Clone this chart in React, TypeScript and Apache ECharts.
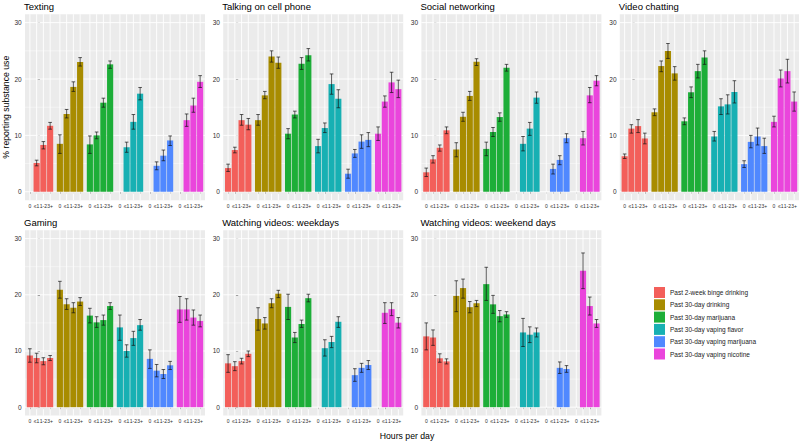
import React, { useEffect, useRef } from "react";
import * as echarts from "echarts";

const LEVELS = ["0", "≤1", "1-2", "3+"];
const SUBSTANCES = [
  "Past 2-week binge drinking",
  "Past 30-day drinking",
  "Past 30-day marijuana",
  "Past 30-day vaping flavor",
  "Past 30-day vaping marijuana",
  "Past 30-day vaping nicotine",
];
const COLORS = ["#F35F5A", "#A88C00", "#1DAE38", "#17B0B3", "#5088FF", "#EA45DC"];
const PANEL_TITLES = [
  "Texting",
  "Talking on cell phone",
  "Social networking",
  "Video chatting",
  "Gaming",
  "Watching videos: weekdays",
  "Watching videos: weekend days",
];
const Y_LABELS = [0, 10, 20, 30];
const Y_MINOR = [5, 15, 25];

const _ = null;

// rows: substances; columns: hours per day levels
const TEXTING_MEAN = [[_, 5.1, 8.3, 11.7], [8.5, 13.8, 18.6, 23.0], [8.4, 10.0, 15.8, 22.6], [_, 7.9, 12.4, 17.4], [_, 4.6, 6.4, 9.1], [_, 12.7, 15.3, 19.5]];
const TEXTING_LOW = [[_, 4.6, 7.6, 11.1], [6.8, 13.1, 17.8, 22.3], [6.8, 9.4, 15.0, 21.9], [_, 7.0, 11.1, 16.3], [_, 3.9, 5.5, 8.2], [_, 11.6, 14.1, 18.5]];
const TEXTING_HIGH = [[_, 5.6, 8.9, 12.3], [10.1, 14.6, 19.5, 23.8], [9.9, 10.6, 16.6, 23.2], [_, 8.8, 13.7, 18.5], [_, 5.3, 7.4, 9.9], [_, 13.8, 16.6, 20.6]];

const TALKING_MEAN = [[4.2, 7.4, 12.7, 11.9], [12.7, 17.1, 24.0, 22.9], [10.3, 13.7, 22.7, 24.2], [8.1, 11.3, 19.1, 16.5], [3.2, 6.8, 8.9, 9.2], [10.3, 16.0, 19.4, 18.2]];
const TALKING_LOW = [[3.6, 6.9, 11.8, 11.0], [11.8, 16.5, 23.0, 21.9], [9.4, 13.1, 21.7, 23.2], [6.9, 10.5, 17.3, 14.9], [2.4, 6.1, 7.7, 8.0], [9.1, 15.0, 17.6, 16.7]];
const TALKING_HIGH = [[4.9, 7.9, 13.7, 13.0], [13.7, 17.8, 25.0, 23.9], [11.2, 14.3, 23.8, 25.4], [9.3, 12.2, 20.9, 18.1], [4.0, 7.5, 10.1, 10.5], [11.5, 17.0, 21.2, 19.8]];

const SOCIAL_MEAN = [[3.45, 5.75, 7.8, 10.9], [7.5, 13.3, 17.0, 23.05], [7.6, 10.6, 13.25, 22.0], [_, 8.5, 11.2, 16.7], [_, 4.05, 5.65, 9.5], [_, 9.5, 17.1, 19.7]];
const SOCIAL_LOW = [[2.7, 5.1, 7.2, 10.3], [6.2, 12.5, 16.2, 22.4], [6.4, 9.8, 12.5, 21.4], [_, 7.25, 10.0, 15.7], [_, 3.15, 4.8, 8.7], [_, 8.3, 15.8, 18.8]];
const SOCIAL_HIGH = [[4.2, 6.4, 8.3, 11.5], [8.7, 14.1, 17.8, 23.6], [8.8, 11.4, 14.0, 22.6], [_, 9.8, 12.3, 17.7], [_, 4.9, 6.4, 10.3], [_, 10.7, 18.5, 20.6]];

const VIDEOCHAT_MEAN = [[6.3, 11.2, 11.65, 9.45], [14.1, 22.3, 24.95, 21.0], [12.5, 17.65, 21.4, 23.8], [9.8, 15.15, 15.5, 17.7], [4.9, 8.85, 9.8, 8.1], [12.4, 20.1, 21.4, 16.0]];
const VIDEOCHAT_LOW = [[5.9, 10.4, 10.5, 8.5], [13.5, 21.3, 23.65, 19.8], [11.9, 16.7, 20.2, 22.6], [9.0, 13.7, 13.8, 15.75], [4.3, 7.8, 8.3, 6.8], [11.5, 18.6, 19.3, 14.3]];
const VIDEOCHAT_HIGH = [[6.7, 11.9, 12.8, 10.4], [14.7, 23.2, 26.3, 22.2], [13.1, 18.6, 22.6, 25.0], [10.7, 16.5, 17.2, 19.7], [5.5, 10.0, 11.3, 9.5], [13.4, 21.6, 23.5, 17.7]];

const GAMING_MEAN = [[9.2, 8.75, 8.2, 8.75], [20.9, 18.3, 17.7, 18.8], [16.3, 15.1, 15.5, 18.0], [14.2, 10.0, 12.3, 14.6], [8.6, 6.5, 5.9, 7.45], [17.4, 17.4, 15.95, 15.35]];
const GAMING_LOW = [[8.0, 7.9, 7.55, 8.3], [19.4, 17.4, 16.8, 18.1], [15.0, 14.2, 14.6, 17.4], [11.9, 8.9, 11.0, 13.7], [6.9, 5.4, 5.1, 6.7], [15.1, 15.5, 14.6, 14.3]];
const GAMING_HIGH = [[10.4, 9.6, 8.8, 9.2], [22.4, 19.3, 18.6, 19.5], [17.6, 16.1, 16.4, 18.6], [16.4, 11.1, 13.5, 15.6], [10.2, 7.6, 6.7, 8.15], [19.7, 19.3, 17.3, 16.4]];

const WEEKDAY_MEAN = [[7.8, 7.3, 8.2, 9.5], [15.7, 14.9, 18.5, 20.2], [17.85, 12.4, 14.8, 19.4], [_, 10.5, 11.6, 15.2], [_, 5.7, 7.0, 7.5], [_, 16.8, 17.45, 15.05]];
const WEEKDAY_LOW = [[6.2, 6.5, 7.7, 9.0], [13.7, 13.9, 17.7, 19.5], [15.6, 11.5, 14.2, 18.75], [_, 9.1, 10.6, 14.2], [_, 4.6, 6.2, 6.7], [_, 14.9, 16.3, 14.1]];
const WEEKDAY_HIGH = [[9.35, 8.1, 8.7, 10.0], [17.7, 15.95, 19.3, 20.8], [20.1, 13.3, 15.5, 20.1], [_, 12.0, 12.6, 16.1], [_, 6.85, 7.8, 8.3], [_, 18.6, 18.6, 15.95]];

const WEEKEND_MEAN = [[12.6, 12.4, 8.7, 8.15], [19.8, 21.2, 17.8, 18.5], [21.9, 18.3, 16.2, 16.5], [_, 13.3, 12.9, 13.3], [_, _, 7.0, 6.8], [_, 24.3, 18.0, 14.9]];
const WEEKEND_LOW = [[10.2, 11.0, 8.0, 7.7], [17.0, 19.4, 16.8, 17.9], [19.0, 16.7, 15.2, 16.0], [_, 10.8, 11.5, 12.5], [_, _, 6.0, 6.2], [_, 21.1, 16.4, 14.2]];
const WEEKEND_HIGH = [[15.0, 13.75, 9.5, 8.6], [22.5, 22.8, 18.8, 19.0], [24.9, 19.9, 17.2, 17.0], [_, 15.8, 14.3, 14.1], [_, _, 8.05, 7.4], [_, 27.45, 19.6, 15.6]];

const PANEL_DATA = [
  [TEXTING_MEAN, TEXTING_LOW, TEXTING_HIGH],
  [TALKING_MEAN, TALKING_LOW, TALKING_HIGH],
  [SOCIAL_MEAN, SOCIAL_LOW, SOCIAL_HIGH],
  [VIDEOCHAT_MEAN, VIDEOCHAT_LOW, VIDEOCHAT_HIGH],
  [GAMING_MEAN, GAMING_LOW, GAMING_HIGH],
  [WEEKDAY_MEAN, WEEKDAY_LOW, WEEKDAY_HIGH],
  [WEEKEND_MEAN, WEEKEND_LOW, WEEKEND_HIGH],
];

const SLOT = 0.225;
const FONT = "'Liberation Sans', Arial, Helvetica, sans-serif";
const LEFTS = [25, 223.2, 421.4, 619.8];
const TOPS = [14.2, 230.2];
const HEIGHTS = [186, 185.4];
const PANEL_W = 180;

const barX = (g: number, l: number) => g + (l - 1.5) * SLOT;
const X_TICKS: number[] = [];
for (let g = 0; g < SUBSTANCES.length; g++) for (let l = 0; l < LEVELS.length; l++) X_TICKS.push(barX(g, l));

const levelLabel = (v: number) => {
  const g = Math.round(v);
  const l = Math.round((v - g) / SLOT + 1.5);
  return LEVELS[l] ?? "";
};

function buildOption() {
  const grids: any[] = [];
  const xAxes: any[] = [];
  const yAxes: any[] = [];
  const graphics: any[] = [];
  const series: any[] = [];

  PANEL_TITLES.forEach((title, p) => {
    const row = p < 4 ? 0 : 1;
    const col = p % 4;
    const left = LEFTS[col];
    const top = TOPS[row];
    grids.push({
      left,
      top,
      width: PANEL_W,
      height: HEIGHTS[row],
      show: true,
      backgroundColor: "#EBEBEB",
      borderWidth: 0,
      containLabel: false,
    });
    xAxes.push({
      type: "value",
      gridIndex: p,
      min: -0.5,
      max: 5.5,
      axisLine: { show: false },
      splitLine: { show: false },
      axisTick: { show: true, customValues: X_TICKS, length: 2, lineStyle: { color: "#333333", width: 0.5 } },
      axisLabel: {
        customValues: X_TICKS,
        formatter: (v: number) => levelLabel(v),
        fontSize: 5,
        color: "#2E2E2E",
        margin: 3,
        showMinLabel: true,
        showMaxLabel: true,
        hideOverlap: false,
        fontFamily: FONT,
      },
    });
    yAxes.push({
      type: "value",
      gridIndex: p,
      min: -1.5,
      max: 31.5,
      axisLine: { show: false },
      splitLine: { show: false },
      axisTick: { show: true, customValues: Y_LABELS, length: 2.3, lineStyle: { color: "#333333", width: 0.6 } },
      axisLabel: {
        customValues: Y_LABELS,
        fontSize: 6.5,
        color: "#2E2E2E",
        margin: 3.3,
        showMinLabel: true,
        showMaxLabel: true,
        hideOverlap: false,
        fontFamily: FONT,
      },
    });
    graphics.push({
      type: "text",
      x: left - 1,
      y: top - 7.5,
      style: {
        text: title,
        fontSize: 9.5,
        fill: "#000000",
        fontFamily: FONT,
        textAlign: "left",
        textVerticalAlign: "middle",
      },
    });

    // panel grid lines, placed by the axis scales
    const gridData: number[][] = [];
    Y_LABELS.forEach((v) => gridData.push([0, v]));
    Y_MINOR.forEach((v) => gridData.push([1, v]));
    X_TICKS.forEach((v) => gridData.push([2, v]));
    series.push({
      type: "custom",
      xAxisIndex: p,
      yAxisIndex: p,
      silent: true,
      z: 1,
      data: gridData,
      renderItem: (params: any, api: any) => {
        const cs = params.coordSys;
        const kind = api.value(0);
        const v = api.value(1);
        if (kind === 2) {
          const x = api.coord([v, 0])[0];
          return { type: "line", shape: { x1: x, y1: cs.y, x2: x, y2: cs.y + cs.height }, style: { stroke: "#FFFFFF", lineWidth: 0.9 } };
        }
        const y = api.coord([0, v])[1];
        return {
          type: "line",
          shape: { x1: cs.x, y1: y, x2: cs.x + cs.width, y2: y },
          style: { stroke: "#FFFFFF", lineWidth: kind === 0 ? 0.9 : 0.45 },
        };
      },
    });

    const [MEAN, LOW, HIGH] = PANEL_DATA[p];
    SUBSTANCES.forEach((name, s) => {
      const data: number[][] = [];
      LEVELS.forEach((_lv, l) => {
        const m = MEAN[s][l];
        if (m === null) return;
        data.push([barX(s, l), m, LOW[s][l] as number, HIGH[s][l] as number]);
      });
      series.push({
        type: "custom",
        name,
        xAxisIndex: p,
        yAxisIndex: p,
        z: 2,
        itemStyle: { color: COLORS[s] },
        encode: { x: 0, y: 1 },
        data,
        renderItem: (params: any, api: any) => {
          const x = api.value(0);
          const m = api.value(1);
          const lo = api.value(2);
          const hi = api.value(3);
          const pTL = api.coord([x - SLOT / 2, m]);
          const pBR = api.coord([x + SLOT / 2, 0]);
          const gap = 0.3;
          const cx = api.coord([x, 0])[0];
          const yHi = api.coord([x, hi])[1];
          const yLo = api.coord([x, lo])[1];
          const capHalf = api.coord([x + 0.06, 0])[0] - cx;
          const stroke = { stroke: "#151515", lineWidth: 0.7 };
          return {
            type: "group",
            children: [
              {
                type: "rect",
                shape: { x: pTL[0] + gap, y: pTL[1], width: pBR[0] - pTL[0] - 2 * gap, height: pBR[1] - pTL[1] },
                style: { fill: api.visual("color") },
              },
              { type: "line", shape: { x1: cx, y1: yHi, x2: cx, y2: yLo }, style: stroke },
              { type: "line", shape: { x1: cx - capHalf, y1: yHi, x2: cx + capHalf, y2: yHi }, style: stroke },
              { type: "line", shape: { x1: cx - capHalf, y1: yLo, x2: cx + capHalf, y2: yLo }, style: stroke },
            ],
          };
        },
      });
    });
  });

  graphics.push({
    type: "text",
    x: 407,
    y: 436,
    style: {
      text: "Hours per day",
      fontSize: 8.7,
      fill: "#000000",
      fontFamily: FONT,
      textAlign: "center",
      textVerticalAlign: "middle",
    },
  });

  return {
    animation: false,
    backgroundColor: "#FFFFFF",
    textStyle: { fontFamily: FONT },
    title: {
      text: "% reporting substance use",
      left: -200,
      top: -200,
      show: false,
    },
    grid: grids,
    xAxis: xAxes,
    yAxis: yAxes.map((ax, i) =>
      i === 0
        ? {
            ...ax,
            name: "% reporting substance use",
            nameLocation: "middle",
            nameRotate: 90,
            nameGap: 0,
            nameTextStyle: { fontSize: 8.7, color: "#000000", fontFamily: FONT, padding: 0 },
          }
        : ax
    ),
    legend: {
      orient: "vertical",
      left: 654,
      top: 287,
      padding: 0,
      itemWidth: 11,
      itemHeight: 11,
      itemGap: 1.3,
      selectedMode: false,
      data: SUBSTANCES.map((name) => ({ name, icon: "rect" })),
      textStyle: { fontSize: 6.5, color: "#1A1A1A", fontFamily: FONT },
    },
    graphic: graphics,
    series,
  };
}

export default function App() {
  const ref = useRef<HTMLDivElement>(null);
  useEffect(() => {
    if (!ref.current) return;
    const chart = echarts.init(ref.current, undefined, { renderer: "svg" });
    chart.setOption(buildOption() as any);
    return () => chart.dispose();
  }, []);
  return <div ref={ref} style={{ position: "fixed", left: 0, top: 0, width: 800, height: 441 }} />;
}
